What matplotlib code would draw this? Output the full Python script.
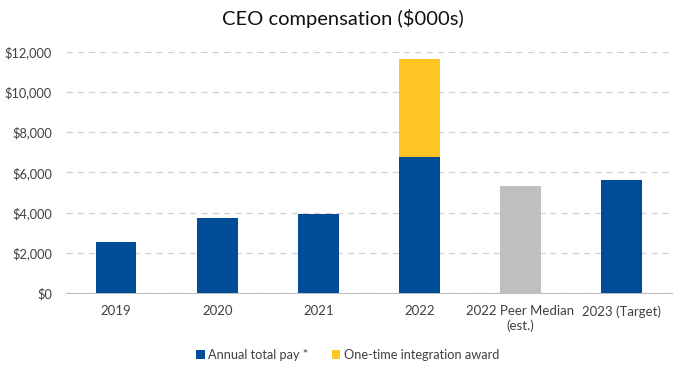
import numpy as np
import matplotlib.pyplot as plt

plt.rcParams['font.family'] = ['Lato', 'DejaVu Sans']

categories = ['2019', '2020', '2021', '2022', '2022 Peer Median\n(est.)', '2023 (Target)']
annual_pay = [2550, 3750, 3950, 6750, 0, 5600]
integration_award = [0, 0, 0, 4900, 0, 0]
peer_median = [0, 0, 0, 0, 5300, 0]

blue = '#004C97'
yellow = '#FFC522'
grey = '#BFBFBF'

fig = plt.figure(figsize=(6.85, 3.77), dpi=100)
ax = fig.add_axes([0.096, 0.223, 0.885, 0.64])

x = np.arange(len(categories))
w = 0.4
ax.bar(x, annual_pay, w, color=blue, label='Annual total pay *', zorder=3)
ax.bar(x, integration_award, w, bottom=annual_pay, color=yellow,
       label='One-time integration award', zorder=3)
ax.bar(x, peer_median, w, color=grey, zorder=3)

ax.set_xlim(-0.5, len(categories) - 0.5)
ax.set_ylim(0, 12000)
ax.set_yticks(np.arange(0, 12001, 2000))
ax.set_yticklabels(['$%s' % format(v, ',') for v in range(0, 12001, 2000)])
ax.set_xticks(x)
ax.set_xticklabels(categories, fontsize=9.5, color='#404040', linespacing=1.15)
ax.tick_params(axis='y', labelsize=9.2, labelcolor='#404040', length=0, pad=10)
ax.tick_params(axis='x', length=0, pad=9)

ax.yaxis.grid(True, color='#D0D0D0', linestyle=(0, (5, 4)), linewidth=0.9, zorder=0)
for s in ['top', 'right', 'left']:
    ax.spines[s].set_visible(False)
ax.spines['bottom'].set_color('#BFBFBF')

fig.suptitle('CEO compensation ($000s)', fontsize=14.5, y=0.975, color='#111111')

ax.legend(loc='upper center', bbox_to_anchor=(0.465, -0.185), ncol=2, frameon=False,
          fontsize=9.2, handlelength=0.7, handleheight=0.7, handletextpad=0.3,
          columnspacing=1.8, labelcolor='#404040')

fig.savefig('out.png', dpi=100)
